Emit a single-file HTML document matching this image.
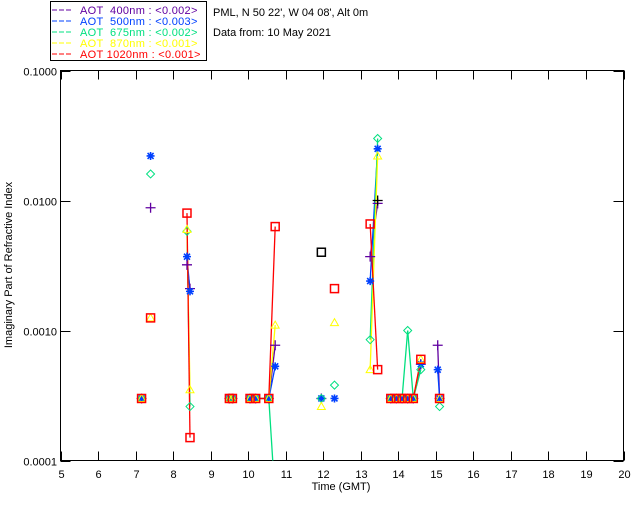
<!DOCTYPE html>
<html><head><meta charset="utf-8"><style>
body{margin:0;background:#fff;}
svg{display:block;font-family:"Liberation Sans",sans-serif;}
svg text{white-space:pre;}
</style></head><body>
<svg id="c" width="640" height="512" viewBox="0 0 640 512">
<g>
<rect x="50.5" y="1.5" width="156" height="59" fill="#fff" stroke="#000"/>
<g font-size="11" letter-spacing="0.3">
<line x1="52" y1="10" x2="73" y2="10" stroke="#6000a0" stroke-dasharray="5,2"/><text x="80" y="14" fill="#6000a0">AOT  400nm : &lt;0.002&gt;</text>
<line x1="52" y1="21" x2="73" y2="21" stroke="#0040ff" stroke-dasharray="5,2"/><text x="80" y="25" fill="#0040ff">AOT  500nm : &lt;0.003&gt;</text>
<line x1="52" y1="32" x2="73" y2="32" stroke="#00e080" stroke-dasharray="5,2"/><text x="80" y="36" fill="#00e080">AOT  675nm : &lt;0.002&gt;</text>
<line x1="52" y1="43" x2="73" y2="43" stroke="#ffff00" stroke-dasharray="5,2"/><text x="80" y="47" fill="#ffff00">AOT  870nm : &lt;0.001&gt;</text>
<line x1="52" y1="54" x2="73" y2="54" stroke="#ff0000" stroke-dasharray="5,2"/><text x="80" y="58" fill="#ff0000">AOT 1020nm : &lt;0.001&gt;</text>
</g></g>
<text x="213" y="16" font-size="11">PML, N 50 22', W 04 08', Alt 0m</text>
<text x="213" y="36" font-size="11">Data from: 10 May 2021</text>
<rect x="60.5" y="70.5" width="563" height="390" fill="none" stroke="#000"/>
<g id="axes"></g>
<g id="marks"></g>
<text x="341" y="490" font-size="11" text-anchor="middle">Time (GMT)</text>
<text transform="translate(12,265) rotate(-90)" font-size="11" text-anchor="middle">Imaginary Part of Refractive Index</text>
</svg>
<script>
const times = [7.16,7.4,8.37,8.45,9.5,9.58,10.05,10.2,10.55,10.72,11.95,12.3,13.25,13.45,13.8,13.95,14.1,14.25,14.4,14.6,15.05,15.1];
const connect = [0,0,0,1,0,1,0,1,1,1,0,0,0,1,0,1,1,1,1,1,0,1];
const v400 = [0.0003,0.0088,0.0032,0.0021,0.0003,0.0003,0.0003,0.0003,0.0003,0.00077,0.0003,null,0.0037,0.0095,0.0003,0.0003,0.0003,0.0003,0.0003,0.00055,0.00077,0.0003];
const v500 = [0.0003,0.022,0.0037,0.002,0.0003,0.0003,0.0003,0.0003,0.0003,0.00053,0.0003,0.0003,0.0024,0.025,0.0003,0.0003,0.0003,0.0003,0.0003,0.00055,0.0005,0.0003];
const v675 = [0.0003,0.016,0.0058,0.00026,0.0003,0.0003,0.0003,0.0003,0.0003,0.00005,0.0003,0.00038,0.00085,0.03,0.0003,0.0003,0.0003,0.001,0.0003,0.0005,null,0.00026];
const v870 = [0.0003,0.00125,0.006,0.00035,0.0003,0.0003,0.0003,0.0003,0.0003,0.0011,0.00026,0.00115,0.0005,0.022,0.0003,0.0003,0.0003,0.0003,0.0003,0.0006,null,0.0003];
const v1020 = [0.0003,0.00125,0.008,0.00015,0.0003,0.0003,0.0003,0.0003,0.0003,0.0063,null,0.0021,0.0066,0.0005,0.0003,0.0003,0.0003,0.0003,0.0003,0.0006,null,0.0003];
const extraTimes = [11.95,13.45];
const extraValues = [0.004,0.01];
const xTicks = [5,6,7,8,9,10,11,12,13,14,15,16,17,18,19,20];
const yTicks = [0.0001,0.001,0.01,0.1];
const yTickLabels = ["0.0001","0.0010","0.0100","0.1000"];

const L=60.5,R=623.5,T=70.5,B=460.5;
const xs=t=>L+(t-5)/15*(R-L);
const ys=v=>B-(Math.log10(v)+4)/3*(B-T);
const NS="http://www.w3.org/2000/svg";
function mk(tag,attrs,parent){const e=document.createElementNS(NS,tag);for(const k in attrs)e.setAttribute(k,attrs[k]);parent.appendChild(e);return e;}
const ax=document.getElementById('axes'),mg=document.getElementById('marks');
xTicks.forEach(t=>{
  const x=Math.round(xs(t))+0.5;
  const a=mk('line',{x1:x,y1:B,x2:x,y2:B-9,stroke:'#000'},ax);
  
  
  const b=mk('line',{x1:x,y1:T,x2:x,y2:T+9,stroke:'#000'},ax);
  
  
  const tx=mk('text',{x:x,y:478,'font-size':11,'text-anchor':'middle'},ax);
  tx.textContent=t;
  
  
});
yTicks.forEach((v,i)=>{
  const y=Math.round(ys(v))+0.5;
  const a=mk('line',{x1:L,y1:y,x2:L+10,y2:y,stroke:'#000'},ax);
  
  
  const b=mk('line',{x1:R,y1:y,x2:R-10,y2:y,stroke:'#000'},ax);
  
  
  const tx=mk('text',{x:57,y:y+4,'font-size':11,'text-anchor':'end'},ax);
  tx.textContent=yTickLabels[i];
  
  
});
const clip=mk('clipPath',{id:'pc'},mg);mk('rect',{x:L,y:T,width:R-L,height:B-T},clip);
const series=[
 {vals:v400,color:'#6000a0',m:'plus',name:'400'},
 {vals:v500,color:'#0040ff',m:'star',name:'500'},
 {vals:v675,color:'#00e080',m:'diamond',name:'675'},
 {vals:v870,color:'#ffff00',m:'tri',name:'870'},
 {vals:v1020,color:'#ff0000',m:'square',name:'1020'}];
function marker(type,x,y,c,g){
  let e;
  if(type==='plus')e=mk('path',{d:`M${x-5} ${y}H${x+5}M${x} ${y-5}V${y+5}`,stroke:c,fill:'none','stroke-width':1.3},g);
  else if(type==='star')e=mk('path',{d:`M${x-4} ${y}H${x+4}M${x} ${y-4}V${y+4}M${x-3} ${y-3}L${x+3} ${y+3}M${x-3} ${y+3}L${x+3} ${y-3}`,stroke:c,fill:'none','stroke-width':1.6},g);
  else if(type==='diamond')e=mk('path',{d:`M${x} ${y-4}L${x+4} ${y}L${x} ${y+4}L${x-4} ${y}Z`,stroke:c,fill:'none'},g);
  else if(type==='tri')e=mk('path',{d:`M${x} ${y-4}L${x+4} ${y+3}L${x-4} ${y+3}Z`,stroke:c,fill:'none'},g);
  else e=mk('rect',{x:x-4,y:y-4,width:8,height:8,stroke:c,fill:'none','stroke-width':1.5},g);
  return e;
}
series.forEach(s=>{
  const g=mk('g',{'clip-path':'url(#pc)'},mg);
  
  
  for(let i=1;i<times.length;i++){
    if(connect[i]&&s.vals[i]!=null&&s.vals[i-1]!=null){
      const l=mk('line',{x1:xs(times[i-1]),y1:ys(s.vals[i-1]),x2:xs(times[i]),y2:ys(s.vals[i]),stroke:s.color,'stroke-width':1.3},g);
      
      
    }
  }
});
series.forEach(s=>{
  const g=mk('g',{'clip-path':'url(#pc)'},mg);
  s.vals.forEach((v,i)=>{
    if(v==null)return;
    const e=marker(s.m,xs(times[i]),ys(v),s.color,g);
    
    
  });
});
extraTimes.forEach((t,i)=>{
  const e=marker(i===0?'square':'plus',xs(t),ys(extraValues[i]),'#000',mg);
  
  
});
</script>
</body></html>
